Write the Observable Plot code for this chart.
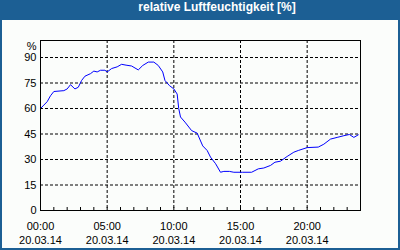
<!DOCTYPE html>
<html><head><meta charset="utf-8">
<script src="https://cdn.jsdelivr.net/npm/d3@7"></script>
<script src="https://cdn.jsdelivr.net/npm/@observablehq/plot@0.6"></script>
<style>
html,body{margin:0;padding:0;background:#fff;}
#wrap{width:400px;height:250px;background:#1c5f94;position:relative;overflow:hidden;}
#title{height:20px;line-height:20px;color:#fff;font:bold 12px "Liberation Sans",Arial,sans-serif;text-align:center;padding-left:34px;box-sizing:border-box;width:400px;}
#chart{position:absolute;left:2px;top:20px;width:396px;height:228px;background:#fbfdfb;}
#chart svg{display:block;}
</style></head>
<body><div id="wrap"><div id="title">relative Luftfeuchtigkeit [%]</div><div id="chart"></div></div>
<script>
const day = "2014-03-20";
const times = ["00:00","00:15","00:30","00:45","01:00","01:45","02:00","02:15","02:35","02:50","03:05","03:20","03:45","04:00","04:15","04:30","04:50","05:00","05:20","05:45","06:05","06:25","06:50","07:20","07:40","08:05","08:30","08:50","09:10","09:20","09:40","10:00","10:15","10:22","10:30","10:50","11:20","11:45","12:10","12:30","12:45","13:08","13:30","13:45","14:10","14:30","15:10","15:50","16:20","16:45","17:15","17:35","18:00","18:30","19:00","19:20","20:00","20:50","21:15","21:45","22:15","22:45","23:10","23:30","23:50"];
const humidity = [60,62,64,67.5,70,70.5,71.5,74,71.5,72.5,76.5,79,80.5,82,81.5,82.5,82.5,81.5,83.5,84.5,86,85.5,85,82.7,85.3,87.3,87.3,85.3,81.5,76.5,73.5,71.5,68.5,60,55,52,47,45.5,38,35.3,31.4,27.5,22.5,23,23,22.5,22.5,22.5,24.5,25,26.5,28.4,29,31.8,34.3,35.3,37,37.3,39,42,43,44,44.7,43,44.5];
const yTicks = [0,15,30,45,60,75,90];
const xTickTimes = ["00:00","05:00","10:00","15:00","20:00"];
const yUnit = "%";

const toDate = t => new Date(`${day}T${t}:00Z`);
const dayStart = toDate("00:00");
const dayEnd = d3.utcDay.offset(dayStart, 1);
const data = times.map((t, i) => ({time: toDate(t), value: humidity[i]}));
const xMajor = xTickTimes.map(toDate);
const xMinor = d3.utcHours(dayStart, new Date(+dayEnd + 1));
const dash = {stroke: "black", strokeOpacity: 1, strokeDasharray: "3,2"};
const W = 396, H = 228, mT = 20, mB = 38, tickLen = 3;

const plot = Plot.plot({
  width: W, height: H,
  marginLeft: 38, marginRight: 38, marginTop: mT, marginBottom: mB,
  style: {fontFamily: '"Liberation Sans", Arial, sans-serif', fontSize: "11px", background: "transparent", color: "black", overflow: "visible"},
  x: {type: "utc", domain: [dayStart, dayEnd]},
  y: {domain: [0, 100]},
  marks: [
    Plot.gridY(yTicks.filter(v => v > 0), dash),
    Plot.gridX(xMajor.slice(1), dash),
    Plot.line(data, {x: "time", y: "value", stroke: "#0000ff", strokeWidth: 1}),
    Plot.frame({stroke: "black"}),
    Plot.tickX(xMinor, {x: d => d, stroke: "black", strokeWidth: 1, insetTop: H - mT - mB - tickLen}),
    Plot.axisY(yTicks, {tickSize: 0, tickPadding: 4, label: null}),
    Plot.axisX(xMajor, {tickSize: 0, tickPadding: 12, tickFormat: d3.utcFormat("%H:%M"), label: null}),
    Plot.axisX(xMajor, {tickSize: 0, tickPadding: 26, tickFormat: d3.utcFormat("%d.%m.%y"), label: null}),
    Plot.text([yUnit], {text: d => d, frameAnchor: "top-left", dx: -4, dy: 6, textAnchor: "end", lineAnchor: "middle"})
  ]
});
document.getElementById("chart").append(plot);
</script>
</body></html>
